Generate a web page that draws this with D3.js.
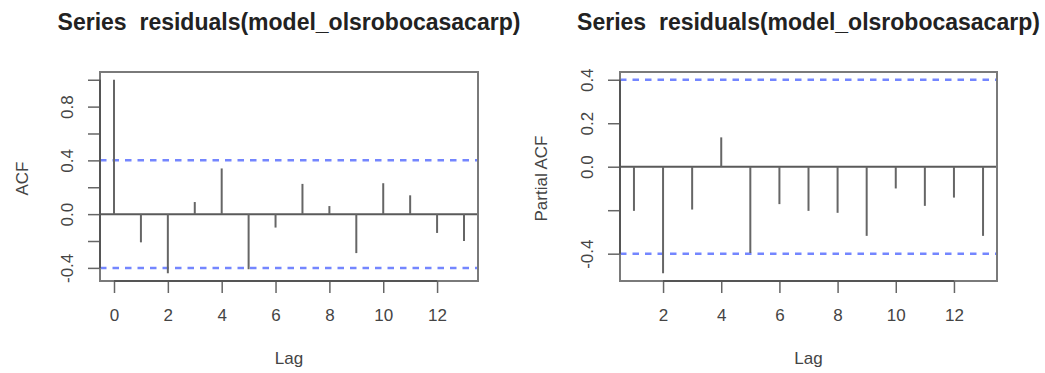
<!DOCTYPE html>
<html>
<head>
<meta charset="utf-8">
<script src="https://cdn.jsdelivr.net/npm/d3@7"></script>
<style>
  html, body { margin: 0; padding: 0; background: #fff; }
  svg { display: block; }
  text { font-family: "Liberation Sans", Arial, sans-serif; fill: #333; }
  .title { white-space: pre; }
</style>
</head>
<body>
<svg id="chart" width="1045" height="373"></svg>
<script>
// ---- data ----
const chartTitle = "Series  residuals(model_olsrobocasacarp)";
const acfLags = [0, 1, 2, 3, 4, 5, 6, 7, 8, 9, 10, 11, 12, 13];
const acfValues = [1.0, -0.21, -0.44, 0.09, 0.34, -0.41, -0.10, 0.225, 0.06, -0.29, 0.23, 0.14, -0.14, -0.20];
const pacfLags = [1, 2, 3, 4, 5, 6, 7, 8, 9, 10, 11, 12, 13];
const pacfValues = [-0.203, -0.49, -0.197, 0.135, -0.397, -0.172, -0.203, -0.212, -0.318, -0.10, -0.18, -0.142, -0.318];
const confLimit = 0.4;
const xTicksAcf = [0, 2, 4, 6, 8, 10, 12];
const xTicksPacf = [2, 4, 6, 8, 10, 12];
const yTicksAcf = [-0.4, -0.2, 0.0, 0.2, 0.4, 0.6, 0.8, 1.0];
const yLabelsAcf = ["-0.4", "", "0.0", "", "0.4", "", "0.8", ""];
const yTicksPacf = [-0.4, -0.2, 0.0, 0.2, 0.4];
const yLabelsPacf = ["-0.4", "", "0.0", "0.2", "0.4"];
const yTitleAcf = "ACF";
const yTitlePacf = "Partial ACF";
const xTitle = "Lag";

// ---- drawing ----
const svg = d3.select("#chart");
const FS = 17;

function expand(lo, hi) { const r = hi - lo; return [lo - 0.04 * r, hi + 0.04 * r]; }

function panel(opts) {
  const { left, right, top, bottom, lags, values, xTicks, yTicks, yLabels, yTitle, yTitleX } = opts;
  const x = d3.scaleLinear().domain(expand(d3.min(lags), d3.max(lags))).range([left, right]);
  const yLo = Math.min(-confLimit, d3.min(values)), yHi = Math.max(confLimit, d3.max(values));
  const y = d3.scaleLinear().domain(expand(yLo, yHi)).range([bottom, top]);
  const g = svg.append("g");

  // title
  g.append("text").attr("class", "title").attr("xml:space", "preserve")
    .attr("x", (left + right) / 2).attr("y", 30)
    .attr("text-anchor", "middle").style("font-weight", "bold").style("font-size", "23px")
    .style("fill", "#222").text(chartTitle);

  // confidence limits
  [confLimit, -confLimit].forEach(c => {
    g.append("line").attr("x1", left).attr("x2", right).attr("y1", y(c)).attr("y2", y(c))
      .attr("stroke", "#7486ff").attr("stroke-width", 2.5).attr("stroke-dasharray", "6.5,6");
  });
  // zero line
  g.append("line").attr("x1", left).attr("x2", right).attr("y1", y(0)).attr("y2", y(0))
    .attr("stroke", "#5a5a5a").attr("stroke-width", 2);

  // stems
  g.selectAll("line.stem").data(lags).enter().append("line").attr("class", "stem")
    .attr("x1", d => x(d)).attr("x2", d => x(d))
    .attr("y1", y(0)).attr("y2", (d, i) => y(values[i]))
    .attr("stroke", "#666").attr("stroke-width", 2);

  // box
  g.append("rect").attr("x", left).attr("y", top).attr("width", right - left).attr("height", bottom - top)
    .attr("fill", "none").attr("stroke", "#7a7a7a").attr("stroke-width", 2);

  // x axis
  const xa = g.append("g").attr("transform", `translate(0,${bottom})`)
    .call(d3.axisBottom(x).tickValues(xTicks).tickFormat(d3.format("d")).tickSize(12).tickPadding(16));
  xa.select(".domain").remove();
  xa.selectAll("line").attr("stroke", "#666").attr("stroke-width", 1.5);
  xa.selectAll("text").style("font-size", FS + "px").style("fill", "#444").attr("font-family", null);
  xa.append("line").attr("x1", x(xTicks[0])).attr("x2", x(xTicks[xTicks.length - 1]))
    .attr("stroke", "#555").attr("stroke-width", 2);

  // y axis
  const ya = g.append("g").attr("transform", `translate(${left},0)`)
    .call(d3.axisLeft(y).tickValues(yTicks).tickFormat((d, i) => yLabels[i]).tickSize(12));
  ya.select(".domain").remove();
  ya.selectAll("line").attr("stroke", "#666").attr("stroke-width", 1.5);
  ya.selectAll("text").style("font-size", FS + "px").style("fill", "#444")
    .attr("x", null).attr("dy", null).attr("text-anchor", "middle")
    .attr("transform", "translate(-27,0) rotate(-90)");
  ya.append("line").attr("y1", y(yTicks[0])).attr("y2", y(yTicks[yTicks.length - 1]))
    .attr("stroke", "#555").attr("stroke-width", 2);

  // axis titles
  g.append("text").attr("text-anchor", "middle").style("font-size", FS + "px").style("fill", "#444")
    .attr("transform", `translate(${yTitleX},${(top + bottom) / 2 + 2}) rotate(-90)`).text(yTitle);
  g.append("text").attr("text-anchor", "middle").style("font-size", FS + "px").style("fill", "#444")
    .attr("x", (left + right) / 2).attr("y", 364).text(xTitle);
}

panel({ left: 100, right: 478, top: 72, bottom: 281, lags: acfLags, values: acfValues,
  xTicks: xTicksAcf, yTicks: yTicksAcf, yLabels: yLabelsAcf, yTitle: yTitleAcf, yTitleX: 28 });
panel({ left: 620, right: 997, top: 72, bottom: 281, lags: pacfLags, values: pacfValues,
  xTicks: xTicksPacf, yTicks: yTicksPacf, yLabels: yLabelsPacf, yTitle: yTitlePacf, yTitleX: 547 });
</script>
</body>
</html>
